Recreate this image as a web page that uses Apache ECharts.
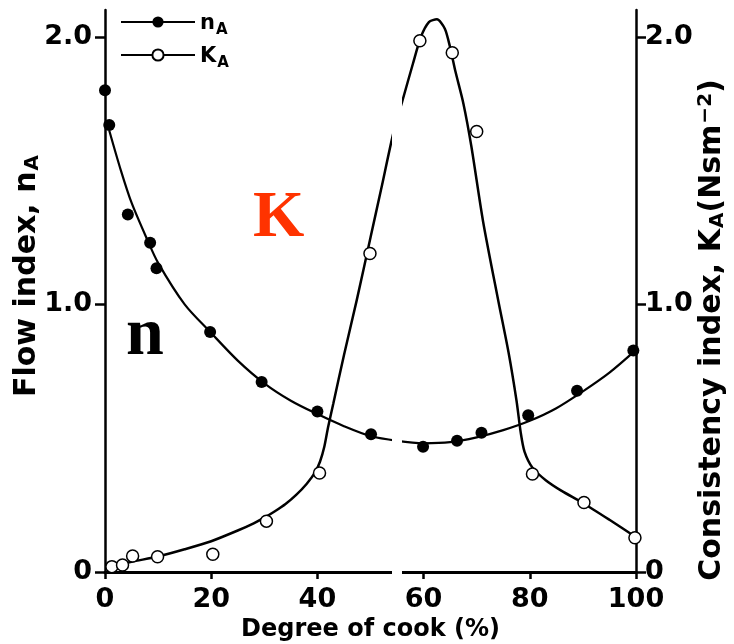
<!DOCTYPE html>
<html>
<head>
<meta charset="utf-8">
<script src="https://cdn.jsdelivr.net/npm/echarts@6/dist/echarts.min.js"></script>
<style>html,body{margin:0;padding:0;background:#fff}#c{width:734px;height:644px}</style>
</head>
<body>
<div id="c"></div>
<script>
// Measured points: flow index n_A (filled) and consistency index K_A (open)
var nX = [0, 0.8, 4.3, 8.5, 9.7, 19.8, 29.5, 40.0, 50.1, 59.9, 66.3, 70.9, 79.7, 88.9, 99.5];
var nY = [1.80, 1.67, 1.336, 1.23, 1.135, 0.897, 0.71, 0.60, 0.515, 0.468, 0.49, 0.52, 0.586, 0.677, 0.828];
var kX = [1.3, 3.3, 5.2, 9.9, 20.3, 30.4, 40.4, 49.9, 59.3, 65.4, 70.0, 80.5, 90.2, 99.8];
var kY = [0.02, 0.026, 0.06, 0.057, 0.066, 0.19, 0.37, 1.19, 1.985, 1.94, 1.646, 0.366, 0.26, 0.128];
// Fitted curves as drawn in the figure
var nCurveX = [0.8, 3, 5, 8, 10, 15, 20, 25, 30, 35, 40, 45, 50, 55, 60, 65, 70, 75, 80, 85, 90, 95, 100];
var nCurveY = [1.65, 1.50, 1.38, 1.24, 1.155, 1.0, 0.893, 0.79, 0.705, 0.64, 0.59, 0.545, 0.508, 0.49, 0.481, 0.485, 0.503, 0.53, 0.565, 0.612, 0.675, 0.745, 0.83];
var kCurveX = [3.5, 5, 10, 15, 20, 25, 28, 30, 32, 34, 36, 38, 39.5, 40.5, 41.3, 42, 43, 45, 47.4, 50, 52, 54.3, 56, 58, 59.5, 61, 62.5, 64, 65, 66, 67.5, 69, 71.2, 74, 76, 77.5, 78.3, 79, 80.5, 83, 86, 90, 95, 100];
var kCurveY = [0.03, 0.038, 0.058, 0.085, 0.115, 0.155, 0.182, 0.203, 0.227, 0.254, 0.288, 0.33, 0.37, 0.413, 0.468, 0.54, 0.63, 0.81, 1.015, 1.25, 1.43, 1.64, 1.76, 1.9, 2.0, 2.055, 2.065, 2.03, 1.96, 1.87, 1.75, 1.59, 1.31, 1.02, 0.82, 0.64, 0.52, 0.45, 0.39, 0.343, 0.303, 0.258, 0.195, 0.13];
var xTicks = [0, 20, 40, 60, 80, 100];
var yTicks = [0, 1, 2];

function pairs(xs, ys) { return xs.map(function (x, i) { return [x, ys[i]]; }); }

var FONT = 'DejaVu Sans';
var chart = echarts.init(document.getElementById('c'), null, { renderer: 'canvas' });
var yFmt = function (v) { return v === 0 ? '0' : v.toFixed(1); };
function yAxisStyle(margin) {
  return {
    axisLine: { show: true, lineStyle: { color: '#000', width: 2.5 } },
    axisTick: { show: true, length: 10, lineStyle: { color: '#000', width: 2.5 }, customValues: yTicks },
    axisLabel: { color: '#000', fontFamily: FONT, fontWeight: 'bold', fontSize: 27, margin: margin, formatter: yFmt, customValues: yTicks },
    splitLine: { show: false }
  };
}
var nameRich = {
  m: { fontFamily: FONT, fontWeight: 'bold', fontSize: 30, color: '#000' },
  s: { fontFamily: FONT, fontWeight: 'bold', fontSize: 20, color: '#000', padding: [12, 0, 0, 1] },
  p: { fontFamily: FONT, fontWeight: 'bold', fontSize: 20, color: '#000', padding: [0, 0, 12, 1] }
};
chart.setOption({
  animation: false,
  backgroundColor: '#fff',
  grid: { left: 105, right: 98, top: 10, bottom: 72, outerBoundsMode: 'none', containLabel: false },
  legend: {
    data: ['nA', 'KA'],
    orient: 'vertical',
    left: 115, top: 8,
    itemWidth: 74, itemHeight: 14, itemGap: 8,
    formatter: function (name) { return name === 'nA' ? '{m|n}{s|A}' : '{m|K}{s|A}'; },
    textStyle: {
      rich: {
        m: { fontFamily: FONT, fontWeight: 'bold', fontSize: 21, color: '#000', lineHeight: 24, verticalAlign: 'bottom' },
        s: { fontFamily: FONT, fontWeight: 'bold', fontSize: 15, color: '#000', lineHeight: 24, verticalAlign: 'bottom', padding: [0, 0, -4, 1] }
      }
    }
  },
  xAxis: {
    type: 'value', min: 0, max: 100, interval: 20,
    name: 'Degree of cook (%)', nameLocation: 'middle', nameGap: 46, nameMoveOverlap: false,
    nameTextStyle: { color: '#000', fontFamily: FONT, fontWeight: 'bold', fontSize: 24 },
    axisLine: { show: true, onZero: false, lineStyle: { color: '#000', width: 3 } },
    axisTick: { show: true, length: 7, lineStyle: { color: '#000', width: 2.5 } },
    axisLabel: { color: '#000', fontFamily: FONT, fontWeight: 'bold', fontSize: 27, margin: 14 },
    splitLine: { show: false }
  },
  yAxis: [
    Object.assign({
      type: 'value', min: 0, max: 2.1, position: 'left',
      name: '{m|Flow index, n}{s|A}', nameLocation: 'middle', nameGap: 62, nameRotate: 90, nameMoveOverlap: false,
      nameTextStyle: { color: '#000', fontFamily: FONT, fontWeight: 'bold', fontSize: 30, padding: [0, 0, 0, 30], rich: nameRich }
    }, yAxisStyle(13)),
    Object.assign({
      type: 'value', min: 0, max: 2.1, position: 'right',
      name: '{m|Consistency index, K}{s|A}{m|(Nsm}{p|−2}{m|)}', nameLocation: 'middle', nameGap: 60, nameRotate: 90, nameMoveOverlap: false,
      nameTextStyle: { color: '#000', fontFamily: FONT, fontWeight: 'bold', fontSize: 30, padding: [0, 78, 0, 0], rich: nameRich }
    }, yAxisStyle(9))
  ],
  graphic: [
    { type: 'text', left: 253, top: 186, z: 50, style: { text: 'K', fill: '#ff3300', font: 'bold 66px "Liberation Serif"' } },
    { type: 'text', left: 126, top: 302, z: 50, style: { text: 'n', fill: '#000', font: 'bold 68px "Liberation Serif"' } },
    { type: 'rect', z: 100, shape: { x: 392, y: 0, width: 10, height: 612 }, style: { fill: '#fff' } }
  ],
  series: [
    {
      name: 'nA', type: 'line', yAxisIndex: 0, data: pairs(nCurveX, nCurveY), smooth: 0.3,
      showSymbol: false, symbol: 'circle', symbolSize: 12,
      lineStyle: { color: '#000', width: 2.2 }, itemStyle: { color: '#000', borderColor: '#000' }, z: 3
    },
    {
      name: 'KA', type: 'line', yAxisIndex: 1, data: pairs(kCurveX, kCurveY), smooth: 0.25,
      showSymbol: false, symbol: 'circle', symbolSize: 12,
      lineStyle: { color: '#000', width: 2.5 }, itemStyle: { color: '#fff', borderColor: '#000', borderWidth: 1.5 }, z: 3
    },
    {
      name: 'nA points', type: 'scatter', yAxisIndex: 0, data: pairs(nX, nY), symbol: 'circle', symbolSize: 12,
      itemStyle: { color: '#000', opacity: 1 }, z: 5
    },
    {
      name: 'KA points', type: 'scatter', yAxisIndex: 1, data: pairs(kX, kY), symbol: 'circle', symbolSize: 12,
      itemStyle: { color: '#fff', borderColor: '#000', borderWidth: 1.5, opacity: 1 }, z: 5
    }
  ]
});
</script>
</body>
</html>
